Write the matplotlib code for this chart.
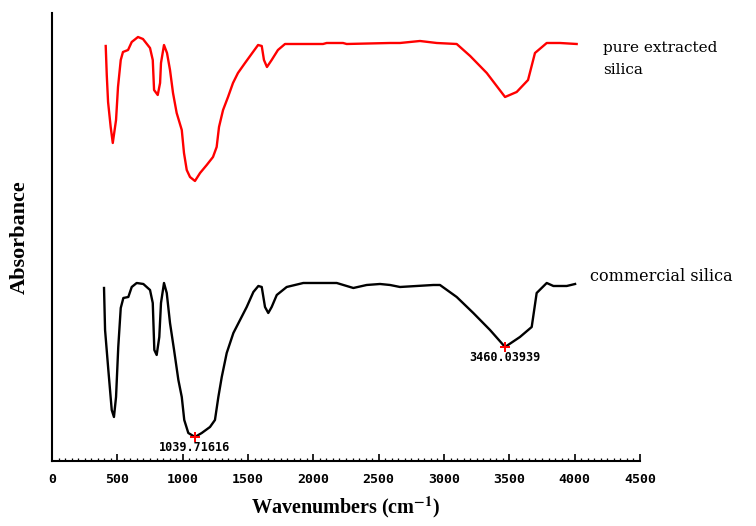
import matplotlib
matplotlib.use("Agg")
import matplotlib.pyplot as plt
from matplotlib.ticker import MultipleLocator

plt.rcParams['mathtext.fontset'] = 'stix'

# pure extracted silica (red), wavenumber vs absorbance (arbitrary units)
pure_wn = [411, 419, 429, 449, 465, 490, 505, 526, 543, 582, 610, 658, 696, 750,
           771, 781, 809, 827, 834, 857, 880, 903, 926, 954, 993, 1010, 1031, 1056,
           1094, 1133, 1184, 1232, 1260, 1278, 1309, 1347, 1385, 1423, 1477, 1538,
           1577, 1605, 1622, 1645, 1681, 1729, 1783, 2074, 2102, 2227, 2255, 2587,
           2663, 2816, 2944, 3097, 3200, 3327, 3467, 3556, 3643, 3696, 3786, 3888, 4015]
pure_abs = [415, 386, 359, 334, 318, 341, 374, 401, 409, 411, 419, 424, 422, 413,
            401, 371, 366, 378, 398, 416, 408, 391, 368, 348, 331, 308, 291, 284,
            280, 288, 296, 304, 314, 334, 351, 364, 378, 388, 398, 409,
            416, 415, 401, 394, 401, 411, 417, 417, 418, 418, 417, 418,
            418, 420, 418, 417, 405, 388, 364, 369, 381, 408, 418, 418, 417]

# commercial silica (black)
comm_wn = [398, 406, 431, 457, 474, 490, 507, 526, 546, 584, 610, 648, 699, 750,
           771, 783, 801, 821, 834, 857, 878, 903, 934, 967, 993, 1012, 1043, 1094,
           1146, 1209, 1247, 1273, 1299, 1337, 1388, 1439, 1490, 1541, 1579, 1605,
           1630, 1655, 1681, 1720, 1796, 1923, 2179, 2306, 2408, 2510, 2587, 2663,
           2918, 2969, 3097, 3224, 3352, 3467, 3581, 3671, 3709, 3786, 3837, 3939, 4003]
comm_abs = [173, 131, 91, 51, 44, 64, 114, 153, 163, 164, 174, 178, 177, 171,
            158, 111, 106, 124, 158, 178, 168, 138, 111, 81, 64, 41, 28, 24,
            28, 34, 41, 64, 84, 108, 128, 141, 154, 169, 175, 174,
            154, 148, 154, 166, 174, 178, 178, 173, 176, 177, 176, 174,
            176, 176, 164, 148, 131, 114, 124, 134, 168, 178, 175, 175, 177]

peak_wn = [1094, 3467]
peak_abs = [24, 114]
peak_labels = ["1039.71616", "3460.03939"]

fig = plt.figure(figsize=(7.56, 5.26), dpi=100)
ax = fig.add_axes([0.0688, 0.1236, 0.7778, 0.8517])

ax.plot(pure_wn, pure_abs, color="red", lw=1.7)
ax.plot(comm_wn, comm_abs, color="black", lw=1.7)
ax.plot(peak_wn, peak_abs, "+", color="red", ms=7, mew=1.4)
for x, y, s in zip(peak_wn, peak_abs, peak_labels):
    ax.text(x, y - 4, s, ha="center", va="top", fontsize=8.5,
            family="DejaVu Sans Mono", fontweight="bold")

ax.text(4217, 402, "pure extracted\nsilica", ha="left", va="center",
        fontsize=11, family="DejaVu Serif", linespacing=1.75)
ax.text(4117, 184, "commercial silica", ha="left", va="center",
        fontsize=11.5, family="DejaVu Serif")

ax.set_xlim(0, 4500)
ax.set_ylim(0, 448)
ax.spines["top"].set_visible(False)
ax.spines["right"].set_visible(False)
ax.spines["left"].set_linewidth(1.5)
ax.spines["bottom"].set_linewidth(1.5)
ax.xaxis.set_major_locator(MultipleLocator(500))
ax.xaxis.set_minor_locator(MultipleLocator(50))
ax.tick_params(axis="x", which="major", direction="in", length=5, width=1.2, pad=9)
ax.tick_params(axis="x", which="minor", direction="in", length=2.5, width=0.9)
ax.set_yticks([])
for lab in ax.get_xticklabels():
    lab.set_family("DejaVu Sans Mono")
    lab.set_fontweight("bold")
    lab.set_fontsize(9.5)

ax.set_xlabel("Wavenumbers (cm$^{\\mathbf{-1}}$)", fontsize=14.5, fontweight="bold",
              family="Liberation Serif", labelpad=6)
ax.set_ylabel("Absorbance", fontsize=16, fontweight="bold",
              family="Liberation Serif", labelpad=16)

fig.savefig("out.png", dpi=100)
